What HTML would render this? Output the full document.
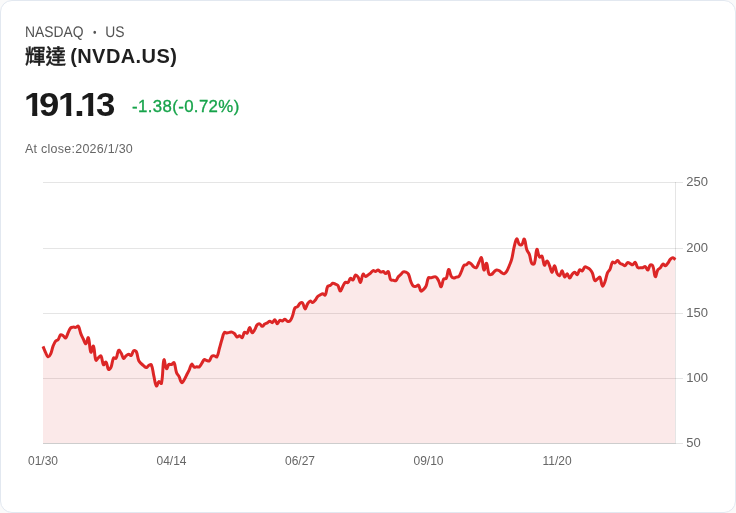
<!DOCTYPE html>
<html lang="zh-Hant">
<head>
<meta charset="utf-8">
<title>輝達 (NVDA.US)</title>
<style>
html,body{margin:0;padding:0;background:#fafafa;}
body{width:736px;height:513px;overflow:hidden;position:relative;font-family:"Liberation Sans","Noto Sans CJK TC",sans-serif;}
.card{position:absolute;left:0;top:0;width:734px;height:511px;border:1px solid #e2e8f0;border-radius:12px;background:#fff;}
.t{position:absolute;white-space:nowrap;line-height:1;}
.exch{left:25.1px;top:24.6px;font-size:15.4px;color:#525252;text-rendering:geometricPrecision;transform:scaleX(0.9);transform-origin:0 0;}
.exch i{font-style:normal;font-size:11px;position:relative;top:-0.8px;margin:0 5.52px 0 6.22px;}
.title u{text-decoration:none;font-family:"Liberation Sans","Noto Sans CJK SC","Noto Sans CJK TC",sans-serif;font-weight:500;font-size:20.5px;-webkit-text-stroke:0.35px #1f1f1f;position:relative;top:0.8px;}
.title b{letter-spacing:0.42px;font-weight:700;margin-left:-1.4px;}
.title{left:25px;top:46.4px;font-size:20px;font-weight:700;color:#1f1f1f;}
.price{left:0;top:88.5px;font-size:32.6px;font-weight:700;color:#1a1a1a;}
.price span{display:inline-block;transform-origin:0 0;}
.chg{left:132px;top:98.7px;font-size:16px;color:#16a34a;transform:scaleX(1.05);transform-origin:0 0;letter-spacing:0.36px;-webkit-text-stroke:0.3px #16a34a;}
.close{left:25px;top:143px;font-size:12px;color:#666;transform:scaleX(1.04);transform-origin:0 0;letter-spacing:0.25px;}
svg{position:absolute;left:0;top:0;}
svg text{font-family:"Liberation Sans",sans-serif;font-size:12px;fill:#666;}
</style>
</head>
<body>
<div class="card"></div>
<div class="t exch">NASDAQ <i>•</i> US</div>
<div class="t title"><u>輝達</u> <b>(NVDA.US)</b></div>
<div class="t price"><span style="margin-left:23.77px;transform:scaleX(1.09);clip-path:polygon(0 0,18.2px 0,18.2px 23.5px,12.2px 23.5px,12.2px 33px,7.5px 33px,7.5px 23.5px,0 23.5px);">1</span><span style="margin-left:-2.93px;transform:scaleX(1.12);">9</span><span style="margin-left:0.82px;transform:scaleX(1.09);clip-path:polygon(0 0,18.2px 0,18.2px 23.5px,12.2px 23.5px,12.2px 33px,7.5px 33px,7.5px 23.5px,0 23.5px);">1</span><span style="margin-left:-2.49px;transform:scaleX(1.2);">.</span><span style="margin-left:-2.90px;transform:scaleX(1.09);clip-path:polygon(0 0,18.2px 0,18.2px 23.5px,12.2px 23.5px,12.2px 33px,7.5px 33px,7.5px 23.5px,0 23.5px);">1</span><span style="margin-left:-1.80px;transform:scaleX(1.068);">3</span></div>
<div class="t chg">-1.38(-0.72%)</div>
<div class="t close">At close:2026/1/30</div>
<svg width="736" height="513" viewBox="0 0 736 513">
<g stroke="rgba(0,0,0,0.1)" stroke-width="1" shape-rendering="crispEdges"><line x1="43" y1="182.5" x2="683" y2="182.5"/><line x1="43" y1="248.5" x2="683" y2="248.5"/><line x1="43" y1="313.5" x2="683" y2="313.5"/><line x1="43" y1="378.5" x2="683" y2="378.5"/><line x1="43" y1="443.5" x2="683" y2="443.5"/></g>
<clipPath id="ca"><rect x="43" y="170" width="632" height="273"/></clipPath>
<path d="M43,346.38C44.01,348.77 44.39,350.03 45.52,352.36C46.41,354.2 46.86,356.37 48.04,356.81C48.88,357.12 49.96,355.49 50.56,354.21C51.97,351.23 51.87,349.29 53.08,346.15C53.89,344.06 54.28,342.84 55.6,341.12C56.29,340.22 57.42,340.5 58.12,339.61C59.43,337.95 59.29,335.77 60.64,334.74C61.31,334.23 62.25,335.18 63.16,335.75C64.27,336.44 64.96,338.38 65.68,337.91C66.97,337.08 67.13,334.63 68.2,332.5C69.15,330.61 69.37,329.29 70.72,327.85C71.39,327.14 72.21,327.23 73.24,327.13C74.23,327.04 74.8,327.53 75.76,327.35C76.81,327.16 77.75,325.55 78.28,326.21C79.77,328.06 79.66,330.71 80.8,333.62C81.67,335.84 82.26,336.89 83.32,339.03C84.27,340.97 84.93,344.03 85.84,343.8C86.95,343.51 87.74,336.69 88.36,337.73C89.75,340.07 89.49,349.97 90.88,352.25C91.51,353.29 92.76,345.02 93.4,346.03C94.77,348.2 94.3,356.47 95.92,360.2C96.32,361.13 97.35,358.59 98.44,357.68C99.37,356.9 100.45,355.27 100.96,355.97C102.47,358.1 102.05,363.05 103.48,364.76C104.06,365.46 105.35,361.39 106,361.99C107.36,363.26 107.11,368.01 108.52,369.44C109.13,370.06 110.5,368.34 111.04,367.12C112.52,363.76 111.97,360.82 113.56,358.01C113.98,357.26 115.61,358.94 116.08,358.22C117.62,355.84 117.21,351.69 118.6,350.27C119.22,349.63 120.33,351.8 121.12,353.06C122.35,355.05 122.4,357.77 123.64,358.41C124.41,358.82 125.02,356.6 126.16,355.69C127.03,354.98 127.65,354.42 128.68,354.37C129.67,354.32 130.52,355.95 131.2,355.45C132.54,354.45 132.37,351.66 133.72,350.61C134.38,350.09 135.79,350.66 136.24,351.55C137.8,354.65 137.34,357.19 138.76,360.59C139.35,362.02 140.2,362.49 141.28,363.63C142.21,364.62 142.73,365.09 143.8,365.93C144.75,366.68 145.37,367.73 146.32,367.61C147.39,367.48 147.68,365.91 148.84,365.3C149.7,364.85 150.99,364.16 151.36,364.95C153.01,368.52 152.8,371.72 153.88,376.2C154.82,380.13 155.05,384.53 156.4,385.98C157.07,386.7 157.66,382.27 158.92,381.63C159.68,381.24 161.2,384.38 161.44,383.38C163.22,375.67 162.5,364.09 163.96,359.85C164.52,358.21 165.18,367.53 166.48,368.67C167.19,369.3 167.65,365.38 169,364.29C169.67,363.74 170.62,364.87 171.52,364.57C172.64,364.2 173.56,361.87 174.04,362.63C175.58,365.11 175.16,368.83 176.56,372.69C177.18,374.42 178.23,374.95 179.08,376.61C180.25,378.91 180.3,381.71 181.6,382.58C182.32,383.07 183.32,381.19 184.12,380C185.34,378.16 185.62,377 186.64,375.01C187.63,373.07 188.23,372.14 189.16,370.16C190.25,367.81 190.42,364.93 191.68,364.18C192.43,363.73 192.98,366.53 194.2,367.16C194.99,367.57 195.7,366.83 196.72,366.78C197.72,366.73 198.49,367.41 199.24,366.91C200.51,366.06 200.77,364.82 201.75,363.4C202.79,361.91 203.01,360.35 204.27,359.63C205.02,359.2 205.76,360.26 206.79,360.51C207.78,360.76 208.66,361.43 209.31,360.88C210.67,359.74 210.48,357.63 211.83,356.29C212.49,355.63 213.37,355.78 214.35,355.88C215.39,355.99 216.4,357.52 216.87,356.82C218.41,354.58 218.43,351.86 219.39,348.54C220.44,344.93 220.79,343.07 221.91,339.49C222.81,336.63 222.94,334.33 224.43,332.43C224.95,331.77 225.95,333.11 226.95,333.1C227.97,333.08 228.45,332.55 229.47,332.35C230.46,332.16 231.07,331.89 231.99,332.13C233.08,332.42 233.68,332.87 234.51,333.68C235.7,334.84 235.83,336.57 237.03,337.05C237.85,337.38 238.61,335.58 239.55,335.71C240.62,335.85 241.37,338.2 242.07,337.72C243.39,336.81 243.2,333.5 244.59,332.22C245.21,331.66 246.51,333.7 247.11,333.12C248.52,331.77 248.59,327.49 249.63,327.41C250.61,327.33 250.94,332.14 252.15,332.71C252.95,333.08 253.85,331.07 254.67,329.77C255.87,327.89 255.83,326.36 257.19,324.76C257.85,323.99 258.85,323.57 259.71,323.84C260.86,324.21 261.2,326.31 262.23,326.36C263.21,326.41 263.65,324.86 264.75,324.11C265.66,323.48 266.31,323.48 267.27,322.92C268.33,322.31 268.76,321.24 269.79,321.18C270.78,321.13 271.44,322.89 272.31,322.66C273.45,322.35 273.93,319.62 274.83,319.83C275.95,320.07 276.31,323.7 277.35,323.78C278.32,323.86 278.62,320.93 279.87,320.23C280.63,319.81 281.46,321.16 282.39,320.97C283.48,320.75 283.94,319.13 284.91,319.2C285.95,319.27 286.3,320.94 287.43,321.33C288.31,321.62 289.31,321.58 289.95,320.91C291.33,319.47 291.69,318.08 292.47,316.04C293.71,312.79 293.45,310.52 294.99,307.68C295.47,306.8 296.74,307.43 297.51,306.75C298.76,305.64 298.76,304.17 300.03,303.19C300.77,302.62 301.99,302.23 302.55,302.87C304.01,304.55 303.99,308.79 305.07,308.99C306.01,309.17 306.37,305.75 307.59,303.84C308.38,302.6 308.98,301.4 310.11,301.11C311,300.88 311.7,302.71 312.63,302.55C313.72,302.36 314.29,301.29 315.15,300.25C316.3,298.87 316.46,297.78 317.67,296.49C318.47,295.64 319.14,295.45 320.19,294.9C321.16,294.39 321.71,293.82 322.71,293.83C323.72,293.84 324.76,295.64 325.23,294.94C326.78,292.63 326.2,289.23 327.75,286.29C328.21,285.42 329.37,285.95 330.27,285.41C331.39,284.75 331.67,283.59 332.79,283.29C333.69,283.04 334.34,283.65 335.31,284.05C336.36,284.49 337.2,284.51 337.83,285.4C339.21,287.32 339.28,290.91 340.35,291.08C341.3,291.22 341.77,288.09 342.87,286.18C343.79,284.59 344.09,283.23 345.39,282.32C346.11,281.82 347.23,283.17 347.91,282.63C349.24,281.6 349.18,279.04 350.43,278.39C351.19,277.99 352.24,280.47 352.95,280.01C354.26,279.16 354.18,275.89 355.47,275.1C356.2,274.66 357.3,275.94 357.99,276.93C359.32,278.83 359.68,282.8 360.51,282.35C361.7,281.69 361.59,275.85 363.03,274.15C363.6,273.48 364.47,276.26 365.55,276.42C366.49,276.56 367.08,275.55 368.07,274.91C369.1,274.24 369.66,273.94 370.59,273.15C371.67,272.23 371.95,271.01 373.11,270.63C373.97,270.34 374.67,271.58 375.63,271.46C376.68,271.34 377.2,269.91 378.15,270.03C379.21,270.16 379.55,271.74 380.67,272.08C381.56,272.34 382.3,271.25 383.19,271.51C384.31,271.85 384.7,273.56 385.71,273.56C386.72,273.57 387.68,270.84 388.23,271.53C389.7,273.36 389.19,277.17 390.75,279.84C391.21,280.62 392.27,279.98 393.27,280.15C394.28,280.33 395.07,281.18 395.79,280.7C397.09,279.83 397.15,278.22 398.31,276.77C399.17,275.7 399.84,275.37 400.83,274.4C401.85,273.39 402.17,272.39 403.35,271.84C404.18,271.45 404.97,271.69 405.87,272.06C406.98,272.52 407.83,272.86 408.39,273.93C409.85,276.73 409.66,278.72 410.91,281.75C411.68,283.62 412.08,284.94 413.43,286.18C414.1,286.8 415,286.61 415.95,286.39C417.02,286.15 417.86,284.46 418.47,285.03C419.87,286.34 419.61,289.89 420.99,291.09C421.63,291.64 422.65,290.24 423.51,289.41C424.66,288.29 425.4,287.68 426.03,286.21C427.41,282.97 426.98,280.24 428.55,277.63C428.99,276.9 430.09,277.97 431.07,277.84C432.1,277.71 432.55,277.15 433.59,276.99C434.57,276.85 435.39,276.54 436.11,277.09C437.4,278.07 437.8,279.24 438.63,280.83C439.82,283.13 440.25,287.14 441.15,286.82C442.27,286.43 442.14,281.59 443.67,279.06C444.15,278.26 445.75,279.32 446.19,278.5C447.77,275.48 447.57,269.96 448.71,269.44C449.58,269.04 449.83,273.79 451.23,276.2C451.84,277.25 452.66,277.9 453.75,278.1C454.67,278.28 455.24,277.49 456.27,277.16C457.26,276.85 458.13,277.22 458.79,276.51C460.15,275.05 460.4,273.7 461.31,271.74C462.42,269.32 462.39,267.57 463.83,265.56C464.4,264.76 465.45,265.24 466.35,264.7C467.46,264.03 467.81,262.65 468.87,262.55C469.83,262.45 470.48,263.42 471.39,264.21C472.5,265.17 472.72,266.13 473.91,266.92C474.74,267.48 475.81,268.14 476.43,267.57C477.82,266.28 477.87,264.35 478.95,262.26C479.89,260.42 480.88,256.84 481.47,257.75C482.89,259.95 482.7,268.62 483.99,270.03C484.72,270.83 485.71,262.65 486.51,263.29C487.73,264.28 487.38,270.5 489.03,274.11C489.4,274.93 490.71,274.76 491.55,274.37C492.73,273.83 492.98,272.74 494.07,271.79C495,270.97 495.49,270.18 496.59,269.95C497.51,269.75 498.19,270.22 499.11,270.7C500.21,271.29 500.55,271.98 501.63,272.64C502.56,273.21 503.26,274.01 504.15,273.78C505.27,273.49 505.91,272.5 506.67,271.33C507.93,269.37 508.28,268.16 509.19,265.98C510.3,263.29 510.97,261.96 511.71,259.16C512.99,254.25 513,251.63 514.23,246.71C515.02,243.51 515.58,239.43 516.75,238.86C517.59,238.45 517.86,242.62 519.26,244.28C519.87,244.99 521.2,245.41 521.78,244.8C523.21,243.32 523.57,238.35 524.3,239.07C525.59,240.34 525.46,245.62 526.82,249.76C527.47,251.72 528.64,252.36 529.34,254.3C530.65,257.9 530.27,260.68 531.86,263.61C532.28,264.37 534.08,264.37 534.38,263.51C536.1,258.64 535.61,250.97 536.9,249.29C537.63,248.35 537.91,254.91 539.42,256.98C539.92,257.65 541.5,255.42 541.94,256.14C543.52,258.71 543.15,263.96 544.46,265.2C545.16,265.86 546.01,260.81 546.98,260.88C548.02,260.95 548.66,263.6 549.5,265.54C550.67,268.2 551.01,272.35 552.02,272.38C553.03,272.4 553.59,265.46 554.54,265.64C555.61,265.84 555.65,270.51 557.06,273.31C557.66,274.5 558.8,276 559.58,275.61C560.82,275 561.2,270.57 562.1,270.82C563.22,271.13 563.37,276.25 564.62,276.99C565.39,277.45 566.23,273.62 567.14,273.81C568.25,274.05 568.62,277.97 569.66,278.06C570.63,278.15 571,275.62 572.18,274.25C573.02,273.29 573.74,272.16 574.7,272.24C575.75,272.33 576.44,275.07 577.22,274.69C578.46,274.07 578.41,270.72 579.74,269.74C580.42,269.24 581.52,271.42 582.26,271C583.53,270.29 583.48,267.77 584.78,266.91C585.5,266.43 586.35,267.23 587.3,267.66C588.37,268.15 589.02,268.38 589.82,269.22C591.04,270.49 591.62,271.31 592.34,272.94C593.64,275.88 593.39,278.88 594.86,280.65C595.41,281.31 596.39,279.68 597.38,278.99C598.41,278.27 599.39,276.42 599.9,277.13C601.41,279.21 601.1,284.75 602.42,285.97C603.12,286.62 604.25,283.6 604.94,281.8C606.26,278.36 606.09,276.26 607.46,272.86C608.1,271.27 609.25,270.89 609.98,269.33C611.27,266.6 611,264.04 612.5,262.13C613.02,261.47 614.16,263.21 615.02,262.91C616.18,262.52 616.58,260.31 617.54,260.41C618.6,260.52 618.86,262.49 620.06,263.42C620.88,264.05 621.61,263.88 622.58,264.31C623.62,264.77 624.26,265.95 625.1,265.67C626.27,265.27 626.42,263.1 627.62,262.6C628.44,262.26 629.15,263.14 630.14,263.55C631.16,263.98 631.77,264.93 632.66,264.7C633.79,264.41 634.43,261.83 635.18,262.26C636.44,262.98 636.29,266.02 637.7,267.57C638.31,268.24 639.21,267.78 640.22,267.81C641.23,267.83 641.78,267.94 642.74,267.7C643.8,267.44 644.47,266.2 645.26,266.57C646.49,267.14 646.91,270.33 647.78,270.05C648.93,269.68 648.94,266.04 650.3,264.95C650.96,264.43 652.42,265.08 652.82,266.02C654.43,269.77 654.13,275.76 655.34,276.67C656.15,277.28 656.46,272.27 657.86,269.82C658.48,268.74 659.54,268.78 660.38,267.83C661.55,266.51 661.69,264.65 662.9,264.14C663.7,263.8 664.52,265.9 665.42,265.71C666.54,265.46 667.05,264.19 667.94,263.03C669.07,261.56 669.21,260.41 670.46,259.12C671.22,258.33 672.02,257.73 672.98,257.82C674.03,257.93 674.49,258.9 675.5,259.63L675.5,443.8L43,443.8Z" fill="rgba(220,38,38,0.1)" stroke="none" clip-path="url(#ca)"/>
<g stroke="rgba(0,0,0,0.1)" stroke-width="1" shape-rendering="crispEdges"><line x1="675.5" y1="182" x2="675.5" y2="444"/><line x1="43" y1="443.5" x2="675" y2="443.5"/></g>
<path d="M43,346.38C44.01,348.77 44.39,350.03 45.52,352.36C46.41,354.2 46.86,356.37 48.04,356.81C48.88,357.12 49.96,355.49 50.56,354.21C51.97,351.23 51.87,349.29 53.08,346.15C53.89,344.06 54.28,342.84 55.6,341.12C56.29,340.22 57.42,340.5 58.12,339.61C59.43,337.95 59.29,335.77 60.64,334.74C61.31,334.23 62.25,335.18 63.16,335.75C64.27,336.44 64.96,338.38 65.68,337.91C66.97,337.08 67.13,334.63 68.2,332.5C69.15,330.61 69.37,329.29 70.72,327.85C71.39,327.14 72.21,327.23 73.24,327.13C74.23,327.04 74.8,327.53 75.76,327.35C76.81,327.16 77.75,325.55 78.28,326.21C79.77,328.06 79.66,330.71 80.8,333.62C81.67,335.84 82.26,336.89 83.32,339.03C84.27,340.97 84.93,344.03 85.84,343.8C86.95,343.51 87.74,336.69 88.36,337.73C89.75,340.07 89.49,349.97 90.88,352.25C91.51,353.29 92.76,345.02 93.4,346.03C94.77,348.2 94.3,356.47 95.92,360.2C96.32,361.13 97.35,358.59 98.44,357.68C99.37,356.9 100.45,355.27 100.96,355.97C102.47,358.1 102.05,363.05 103.48,364.76C104.06,365.46 105.35,361.39 106,361.99C107.36,363.26 107.11,368.01 108.52,369.44C109.13,370.06 110.5,368.34 111.04,367.12C112.52,363.76 111.97,360.82 113.56,358.01C113.98,357.26 115.61,358.94 116.08,358.22C117.62,355.84 117.21,351.69 118.6,350.27C119.22,349.63 120.33,351.8 121.12,353.06C122.35,355.05 122.4,357.77 123.64,358.41C124.41,358.82 125.02,356.6 126.16,355.69C127.03,354.98 127.65,354.42 128.68,354.37C129.67,354.32 130.52,355.95 131.2,355.45C132.54,354.45 132.37,351.66 133.72,350.61C134.38,350.09 135.79,350.66 136.24,351.55C137.8,354.65 137.34,357.19 138.76,360.59C139.35,362.02 140.2,362.49 141.28,363.63C142.21,364.62 142.73,365.09 143.8,365.93C144.75,366.68 145.37,367.73 146.32,367.61C147.39,367.48 147.68,365.91 148.84,365.3C149.7,364.85 150.99,364.16 151.36,364.95C153.01,368.52 152.8,371.72 153.88,376.2C154.82,380.13 155.05,384.53 156.4,385.98C157.07,386.7 157.66,382.27 158.92,381.63C159.68,381.24 161.2,384.38 161.44,383.38C163.22,375.67 162.5,364.09 163.96,359.85C164.52,358.21 165.18,367.53 166.48,368.67C167.19,369.3 167.65,365.38 169,364.29C169.67,363.74 170.62,364.87 171.52,364.57C172.64,364.2 173.56,361.87 174.04,362.63C175.58,365.11 175.16,368.83 176.56,372.69C177.18,374.42 178.23,374.95 179.08,376.61C180.25,378.91 180.3,381.71 181.6,382.58C182.32,383.07 183.32,381.19 184.12,380C185.34,378.16 185.62,377 186.64,375.01C187.63,373.07 188.23,372.14 189.16,370.16C190.25,367.81 190.42,364.93 191.68,364.18C192.43,363.73 192.98,366.53 194.2,367.16C194.99,367.57 195.7,366.83 196.72,366.78C197.72,366.73 198.49,367.41 199.24,366.91C200.51,366.06 200.77,364.82 201.75,363.4C202.79,361.91 203.01,360.35 204.27,359.63C205.02,359.2 205.76,360.26 206.79,360.51C207.78,360.76 208.66,361.43 209.31,360.88C210.67,359.74 210.48,357.63 211.83,356.29C212.49,355.63 213.37,355.78 214.35,355.88C215.39,355.99 216.4,357.52 216.87,356.82C218.41,354.58 218.43,351.86 219.39,348.54C220.44,344.93 220.79,343.07 221.91,339.49C222.81,336.63 222.94,334.33 224.43,332.43C224.95,331.77 225.95,333.11 226.95,333.1C227.97,333.08 228.45,332.55 229.47,332.35C230.46,332.16 231.07,331.89 231.99,332.13C233.08,332.42 233.68,332.87 234.51,333.68C235.7,334.84 235.83,336.57 237.03,337.05C237.85,337.38 238.61,335.58 239.55,335.71C240.62,335.85 241.37,338.2 242.07,337.72C243.39,336.81 243.2,333.5 244.59,332.22C245.21,331.66 246.51,333.7 247.11,333.12C248.52,331.77 248.59,327.49 249.63,327.41C250.61,327.33 250.94,332.14 252.15,332.71C252.95,333.08 253.85,331.07 254.67,329.77C255.87,327.89 255.83,326.36 257.19,324.76C257.85,323.99 258.85,323.57 259.71,323.84C260.86,324.21 261.2,326.31 262.23,326.36C263.21,326.41 263.65,324.86 264.75,324.11C265.66,323.48 266.31,323.48 267.27,322.92C268.33,322.31 268.76,321.24 269.79,321.18C270.78,321.13 271.44,322.89 272.31,322.66C273.45,322.35 273.93,319.62 274.83,319.83C275.95,320.07 276.31,323.7 277.35,323.78C278.32,323.86 278.62,320.93 279.87,320.23C280.63,319.81 281.46,321.16 282.39,320.97C283.48,320.75 283.94,319.13 284.91,319.2C285.95,319.27 286.3,320.94 287.43,321.33C288.31,321.62 289.31,321.58 289.95,320.91C291.33,319.47 291.69,318.08 292.47,316.04C293.71,312.79 293.45,310.52 294.99,307.68C295.47,306.8 296.74,307.43 297.51,306.75C298.76,305.64 298.76,304.17 300.03,303.19C300.77,302.62 301.99,302.23 302.55,302.87C304.01,304.55 303.99,308.79 305.07,308.99C306.01,309.17 306.37,305.75 307.59,303.84C308.38,302.6 308.98,301.4 310.11,301.11C311,300.88 311.7,302.71 312.63,302.55C313.72,302.36 314.29,301.29 315.15,300.25C316.3,298.87 316.46,297.78 317.67,296.49C318.47,295.64 319.14,295.45 320.19,294.9C321.16,294.39 321.71,293.82 322.71,293.83C323.72,293.84 324.76,295.64 325.23,294.94C326.78,292.63 326.2,289.23 327.75,286.29C328.21,285.42 329.37,285.95 330.27,285.41C331.39,284.75 331.67,283.59 332.79,283.29C333.69,283.04 334.34,283.65 335.31,284.05C336.36,284.49 337.2,284.51 337.83,285.4C339.21,287.32 339.28,290.91 340.35,291.08C341.3,291.22 341.77,288.09 342.87,286.18C343.79,284.59 344.09,283.23 345.39,282.32C346.11,281.82 347.23,283.17 347.91,282.63C349.24,281.6 349.18,279.04 350.43,278.39C351.19,277.99 352.24,280.47 352.95,280.01C354.26,279.16 354.18,275.89 355.47,275.1C356.2,274.66 357.3,275.94 357.99,276.93C359.32,278.83 359.68,282.8 360.51,282.35C361.7,281.69 361.59,275.85 363.03,274.15C363.6,273.48 364.47,276.26 365.55,276.42C366.49,276.56 367.08,275.55 368.07,274.91C369.1,274.24 369.66,273.94 370.59,273.15C371.67,272.23 371.95,271.01 373.11,270.63C373.97,270.34 374.67,271.58 375.63,271.46C376.68,271.34 377.2,269.91 378.15,270.03C379.21,270.16 379.55,271.74 380.67,272.08C381.56,272.34 382.3,271.25 383.19,271.51C384.31,271.85 384.7,273.56 385.71,273.56C386.72,273.57 387.68,270.84 388.23,271.53C389.7,273.36 389.19,277.17 390.75,279.84C391.21,280.62 392.27,279.98 393.27,280.15C394.28,280.33 395.07,281.18 395.79,280.7C397.09,279.83 397.15,278.22 398.31,276.77C399.17,275.7 399.84,275.37 400.83,274.4C401.85,273.39 402.17,272.39 403.35,271.84C404.18,271.45 404.97,271.69 405.87,272.06C406.98,272.52 407.83,272.86 408.39,273.93C409.85,276.73 409.66,278.72 410.91,281.75C411.68,283.62 412.08,284.94 413.43,286.18C414.1,286.8 415,286.61 415.95,286.39C417.02,286.15 417.86,284.46 418.47,285.03C419.87,286.34 419.61,289.89 420.99,291.09C421.63,291.64 422.65,290.24 423.51,289.41C424.66,288.29 425.4,287.68 426.03,286.21C427.41,282.97 426.98,280.24 428.55,277.63C428.99,276.9 430.09,277.97 431.07,277.84C432.1,277.71 432.55,277.15 433.59,276.99C434.57,276.85 435.39,276.54 436.11,277.09C437.4,278.07 437.8,279.24 438.63,280.83C439.82,283.13 440.25,287.14 441.15,286.82C442.27,286.43 442.14,281.59 443.67,279.06C444.15,278.26 445.75,279.32 446.19,278.5C447.77,275.48 447.57,269.96 448.71,269.44C449.58,269.04 449.83,273.79 451.23,276.2C451.84,277.25 452.66,277.9 453.75,278.1C454.67,278.28 455.24,277.49 456.27,277.16C457.26,276.85 458.13,277.22 458.79,276.51C460.15,275.05 460.4,273.7 461.31,271.74C462.42,269.32 462.39,267.57 463.83,265.56C464.4,264.76 465.45,265.24 466.35,264.7C467.46,264.03 467.81,262.65 468.87,262.55C469.83,262.45 470.48,263.42 471.39,264.21C472.5,265.17 472.72,266.13 473.91,266.92C474.74,267.48 475.81,268.14 476.43,267.57C477.82,266.28 477.87,264.35 478.95,262.26C479.89,260.42 480.88,256.84 481.47,257.75C482.89,259.95 482.7,268.62 483.99,270.03C484.72,270.83 485.71,262.65 486.51,263.29C487.73,264.28 487.38,270.5 489.03,274.11C489.4,274.93 490.71,274.76 491.55,274.37C492.73,273.83 492.98,272.74 494.07,271.79C495,270.97 495.49,270.18 496.59,269.95C497.51,269.75 498.19,270.22 499.11,270.7C500.21,271.29 500.55,271.98 501.63,272.64C502.56,273.21 503.26,274.01 504.15,273.78C505.27,273.49 505.91,272.5 506.67,271.33C507.93,269.37 508.28,268.16 509.19,265.98C510.3,263.29 510.97,261.96 511.71,259.16C512.99,254.25 513,251.63 514.23,246.71C515.02,243.51 515.58,239.43 516.75,238.86C517.59,238.45 517.86,242.62 519.26,244.28C519.87,244.99 521.2,245.41 521.78,244.8C523.21,243.32 523.57,238.35 524.3,239.07C525.59,240.34 525.46,245.62 526.82,249.76C527.47,251.72 528.64,252.36 529.34,254.3C530.65,257.9 530.27,260.68 531.86,263.61C532.28,264.37 534.08,264.37 534.38,263.51C536.1,258.64 535.61,250.97 536.9,249.29C537.63,248.35 537.91,254.91 539.42,256.98C539.92,257.65 541.5,255.42 541.94,256.14C543.52,258.71 543.15,263.96 544.46,265.2C545.16,265.86 546.01,260.81 546.98,260.88C548.02,260.95 548.66,263.6 549.5,265.54C550.67,268.2 551.01,272.35 552.02,272.38C553.03,272.4 553.59,265.46 554.54,265.64C555.61,265.84 555.65,270.51 557.06,273.31C557.66,274.5 558.8,276 559.58,275.61C560.82,275 561.2,270.57 562.1,270.82C563.22,271.13 563.37,276.25 564.62,276.99C565.39,277.45 566.23,273.62 567.14,273.81C568.25,274.05 568.62,277.97 569.66,278.06C570.63,278.15 571,275.62 572.18,274.25C573.02,273.29 573.74,272.16 574.7,272.24C575.75,272.33 576.44,275.07 577.22,274.69C578.46,274.07 578.41,270.72 579.74,269.74C580.42,269.24 581.52,271.42 582.26,271C583.53,270.29 583.48,267.77 584.78,266.91C585.5,266.43 586.35,267.23 587.3,267.66C588.37,268.15 589.02,268.38 589.82,269.22C591.04,270.49 591.62,271.31 592.34,272.94C593.64,275.88 593.39,278.88 594.86,280.65C595.41,281.31 596.39,279.68 597.38,278.99C598.41,278.27 599.39,276.42 599.9,277.13C601.41,279.21 601.1,284.75 602.42,285.97C603.12,286.62 604.25,283.6 604.94,281.8C606.26,278.36 606.09,276.26 607.46,272.86C608.1,271.27 609.25,270.89 609.98,269.33C611.27,266.6 611,264.04 612.5,262.13C613.02,261.47 614.16,263.21 615.02,262.91C616.18,262.52 616.58,260.31 617.54,260.41C618.6,260.52 618.86,262.49 620.06,263.42C620.88,264.05 621.61,263.88 622.58,264.31C623.62,264.77 624.26,265.95 625.1,265.67C626.27,265.27 626.42,263.1 627.62,262.6C628.44,262.26 629.15,263.14 630.14,263.55C631.16,263.98 631.77,264.93 632.66,264.7C633.79,264.41 634.43,261.83 635.18,262.26C636.44,262.98 636.29,266.02 637.7,267.57C638.31,268.24 639.21,267.78 640.22,267.81C641.23,267.83 641.78,267.94 642.74,267.7C643.8,267.44 644.47,266.2 645.26,266.57C646.49,267.14 646.91,270.33 647.78,270.05C648.93,269.68 648.94,266.04 650.3,264.95C650.96,264.43 652.42,265.08 652.82,266.02C654.43,269.77 654.13,275.76 655.34,276.67C656.15,277.28 656.46,272.27 657.86,269.82C658.48,268.74 659.54,268.78 660.38,267.83C661.55,266.51 661.69,264.65 662.9,264.14C663.7,263.8 664.52,265.9 665.42,265.71C666.54,265.46 667.05,264.19 667.94,263.03C669.07,261.56 669.21,260.41 670.46,259.12C671.22,258.33 672.02,257.73 672.98,257.82C674.03,257.93 674.49,258.9 675.5,259.63" fill="none" stroke="#dc2626" stroke-width="3" stroke-linejoin="round" stroke-linecap="butt"/>
<g text-anchor="start">
<text transform="translate(686.2,186) scale(1.085,1)">250</text>
<text transform="translate(686.2,252) scale(1.085,1)">200</text>
<text transform="translate(686.2,317) scale(1.085,1)">150</text>
<text transform="translate(686.2,382) scale(1.085,1)">100</text>
<text transform="translate(686.2,447) scale(1.085,1)">50</text>
</g>
<g text-anchor="middle">
<text x="43" y="465">01/30</text>
<text x="171.5" y="465">04/14</text>
<text x="300" y="465">06/27</text>
<text x="428.5" y="465">09/10</text>
<text x="557" y="465">11/20</text>
</g>
</svg>
</body>
</html>
